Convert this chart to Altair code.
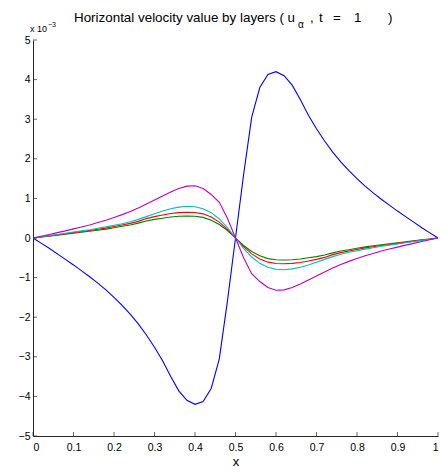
import altair as alt
import pandas as pd

# sample positions
x_vals = [round(i * 0.02, 2) for i in range(51)]

# values in units of 1e-3
u_blue = [0, -0.13, -0.26, -0.40, -0.54, -0.68, -0.83, -0.98, -1.14, -1.31,
          -1.50, -1.70, -1.92, -2.17, -2.45, -2.76, -3.10, -3.50, -3.86, -4.10,
          -4.20, -4.13, -3.80, -3.05, -1.60, 0,
          1.60, 3.05, 3.80, 4.13, 4.20, 4.10, 3.86, 3.50, 3.10, 2.76,
          2.45, 2.17, 1.92, 1.70, 1.50, 1.31, 1.14, 0.98, 0.83, 0.68,
          0.54, 0.40, 0.26, 0.13, 0]
u_green = [0, 0.024, 0.048, 0.072, 0.096, 0.12, 0.145, 0.17, 0.195, 0.225,
           0.26, 0.295, 0.33, 0.375, 0.43, 0.47, 0.50, 0.53, 0.55, 0.555,
           0.55, 0.52, 0.45, 0.34, 0.19, 0,
           -0.19, -0.34, -0.45, -0.52, -0.55, -0.555, -0.55, -0.53, -0.50, -0.47,
           -0.43, -0.375, -0.33, -0.295, -0.26, -0.225, -0.195, -0.17, -0.145, -0.12,
           -0.096, -0.072, -0.048, -0.024, 0]
u_red = [0, 0.027, 0.054, 0.08, 0.108, 0.135, 0.163, 0.19, 0.22, 0.25,
         0.29, 0.33, 0.37, 0.42, 0.49, 0.54, 0.58, 0.62, 0.64, 0.65,
         0.645, 0.61, 0.53, 0.40, 0.22, 0,
         -0.22, -0.40, -0.53, -0.61, -0.645, -0.65, -0.64, -0.62, -0.58, -0.54,
         -0.49, -0.42, -0.37, -0.33, -0.29, -0.25, -0.22, -0.19, -0.163, -0.135,
         -0.108, -0.08, -0.054, -0.027, 0]
u_cyan = [0, 0.03, 0.06, 0.09, 0.12, 0.15, 0.18, 0.21, 0.245, 0.28,
          0.32, 0.36, 0.41, 0.47, 0.54, 0.61, 0.68, 0.74, 0.78, 0.80,
          0.79, 0.74, 0.64, 0.48, 0.26, 0,
          -0.26, -0.48, -0.64, -0.74, -0.79, -0.80, -0.78, -0.74, -0.68, -0.61,
          -0.54, -0.47, -0.41, -0.36, -0.32, -0.28, -0.245, -0.21, -0.18, -0.15,
          -0.12, -0.09, -0.06, -0.03, 0]
u_magenta = [0, 0.045, 0.09, 0.135, 0.18, 0.23, 0.28, 0.33, 0.39, 0.45,
             0.52, 0.59, 0.67, 0.76, 0.86, 0.96, 1.06, 1.16, 1.25, 1.31,
             1.32, 1.25, 1.10, 0.90, 0.50, 0,
             -0.50, -0.90, -1.10, -1.25, -1.32, -1.31, -1.25, -1.16, -1.06, -0.96,
             -0.86, -0.76, -0.67, -0.59, -0.52, -0.45, -0.39, -0.33, -0.28, -0.23,
             -0.18, -0.135, -0.09, -0.045, 0]

layer_names = ["1", "2", "3", "4", "5"]
layer_colors = ["#0000ff", "#008000", "#ff0000", "#00bfbf", "#bf00bf"]
series = [u_blue, u_green, u_red, u_cyan, u_magenta]

x_ticks = [0, 0.1, 0.2, 0.3, 0.4, 0.5, 0.6, 0.7, 0.8, 0.9, 1]
y_ticks = [-5, -4, -3, -2, -1, 0, 1, 2, 3, 4, 5]

rows = []
for name, vals in zip(layer_names, series):
    for xv, uv in zip(x_vals, vals):
        rows.append({"x": xv, "u": uv, "layer": name})
df = pd.DataFrame(rows)

FONT = "Liberation Sans"
W, H = 405, 396

xs = alt.Scale(domain=[0, 1], nice=False, zero=False)
ys = alt.Scale(domain=[-5, 5], nice=False, zero=False)

x_axis = alt.Axis(values=x_ticks, format=".1~f", title="x",
                  ticks=False, labelPadding=6, labelFontSize=10.5,
                  labelFont=FONT, labelColor="#000",
                  titleFont=FONT, titleFontSize=13, titleFontWeight="normal",
                  titleColor="#000", titlePadding=3,
                  domainColor="#262626", grid=False)
y_axis = alt.Axis(values=y_ticks, format="d", title=None,
                  ticks=False, labelPadding=3, labelFontSize=10.5,
                  labelFont=FONT, labelColor="#000",
                  domainColor="#262626", grid=False)

lines = alt.Chart(df).mark_line(strokeWidth=1.1, clip=True).encode(
    x=alt.X("x:Q", scale=xs, axis=x_axis),
    y=alt.Y("u:Q", scale=ys, axis=y_axis),
    color=alt.Color("layer:N", scale=alt.Scale(domain=layer_names, range=layer_colors),
                    legend=None),
    order=alt.Order("x:Q"),
)

xt = alt.Chart(pd.DataFrame({"x": x_ticks, "u": [-5] * len(x_ticks)})).mark_tick(
    orient="vertical", size=4, thickness=1, yOffset=-2, color="#262626"
).encode(x=alt.X("x:Q", scale=xs, axis=x_axis), y=alt.Y("u:Q", scale=ys, axis=y_axis))

yt = alt.Chart(pd.DataFrame({"u": y_ticks, "x": [0] * len(y_ticks)})).mark_tick(
    orient="horizontal", size=4, thickness=1, xOffset=2, color="#262626"
).encode(y=alt.Y("u:Q", scale=ys, axis=y_axis), x=alt.X("x:Q", scale=xs, axis=x_axis))

one = pd.DataFrame({"a": [0]})

def txt(s, px, py, size, align="left"):
    return alt.Chart(one).mark_text(
        text=s, font=FONT, fontSize=size, align=align, baseline="alphabetic", color="#000"
    ).encode(x=alt.value(px), y=alt.value(py))

title_parts = [
    txt("Horizontal velocity value by layers ( u", 41, -18, 13.4),
    txt("\u03b1", 265, -12, 10),
    txt(",", 277, -18, 13.4),
    txt("t", 286, -18, 13.4),
    txt("=", 300, -18, 13.4),
    txt("1", 321, -18, 13.4),
    txt(")", 355, -18, 13.4),
    txt("x 10", -3, -8, 9),
    txt("\u22123", 15, -13, 7),
]

chart = alt.layer(lines, xt, yt, *title_parts).properties(
    width=W, height=H,
    padding={"left": 33, "top": 40, "right": 2, "bottom": 37},
    autosize=alt.AutoSizeParams(type="none"),
).configure_view(stroke=None)

chart.save("out.html", embed_options={"renderer": "svg", "actions": False})
